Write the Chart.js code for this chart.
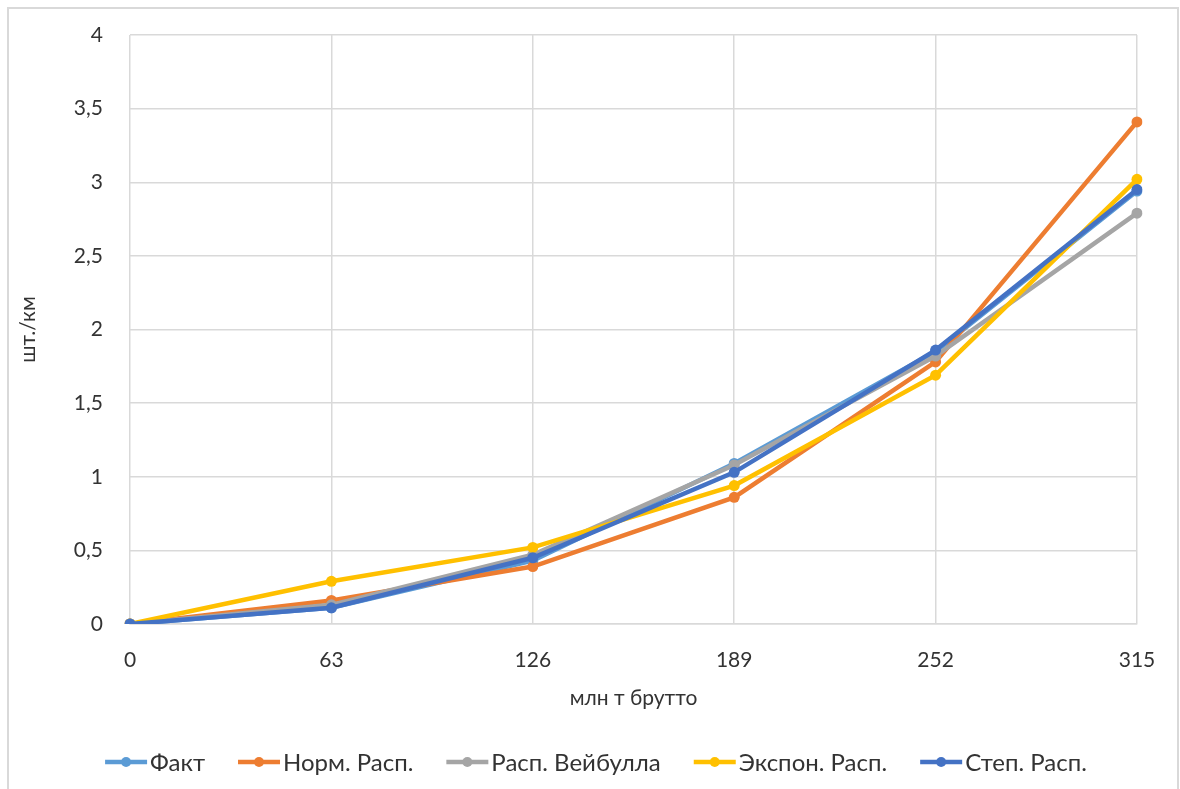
<!DOCTYPE html>
<html>
<head>
<meta charset="utf-8">
<script src="https://cdn.jsdelivr.net/npm/chart.js@4.4.1/dist/chart.umd.min.js"></script>
<style>
  html, body { margin: 0; padding: 0; background: #ffffff; }
  #wrap { width: 1180px; height: 789px; position: relative; }
</style>
</head>
<body>
<div id="wrap"><canvas id="chart" width="1180" height="789"></canvas></div>
<script>
// Наработка, млн т брутто
const categories = ['0', '63', '126', '189', '252', '315'];

// Плотность отказов, шт./км
const fact    = [0, 0.11, 0.43, 1.09, 1.85, 2.94];
const normal  = [0, 0.16, 0.39, 0.86, 1.78, 3.41];
const weibull = [0, 0.13, 0.47, 1.08, 1.82, 2.79];
const expon   = [0, 0.29, 0.52, 0.94, 1.69, 3.02];
const power   = [0, 0.11, 0.45, 1.03, 1.86, 2.95];

const seriesNames = ['Факт', 'Норм. Расп.', 'Расп. Вейбулла', 'Экспон. Расп.', 'Степ. Расп.'];
const seriesColors = ['#5B9BD5', '#ED7D31', '#A5A5A5', '#FFC000', '#4472C4'];
const seriesValues = [fact, normal, weibull, expon, power];

const FONT = 'Lato, "Open Sans", sans-serif';
const TEXT = '#333333';

const datasets = seriesValues.map((vals, i) => ({
  label: seriesNames[i],
  data: vals,
  borderColor: seriesColors[i],
  backgroundColor: seriesColors[i],
  borderWidth: 4.5,
  pointRadius: 5.5,
  pointHoverRadius: 5.5,
  pointBorderWidth: 0,
  tension: 0,
  // later series are painted over earlier ones
  order: seriesValues.length - i
}));

// light frame around the whole chart
const framePlugin = {
  id: 'frame',
  beforeDraw(chart) {
    const ctx = chart.ctx;
    ctx.save();
    ctx.fillStyle = '#ffffff';
    ctx.fillRect(0, 0, chart.width, chart.height);
    ctx.strokeStyle = '#d9d9d9';
    ctx.lineWidth = 2;
    ctx.strokeRect(8, 8, chart.width - 10, chart.height + 20);
    ctx.restore();
  }
};

// legend row: line with a round marker followed by the series name
const lineLegend = {
  id: 'lineLegend',
  afterDraw(chart) {
    const ctx = chart.ctx;
    const lineLen = 42, gapText = 3, gapItem = 33, y = 762;
    ctx.save();
    ctx.font = '24px ' + FONT;
    ctx.textBaseline = 'middle';
    const widths = seriesNames.map(n => ctx.measureText(n).width);
    const total = widths.reduce((a, w) => a + lineLen + gapText + w, 0) + gapItem * (seriesNames.length - 1);
    let x = 596 - total / 2;
    seriesNames.forEach((name, i) => {
      ctx.strokeStyle = seriesColors[i];
      ctx.lineWidth = 4.5;
      ctx.beginPath();
      ctx.moveTo(x, y);
      ctx.lineTo(x + lineLen, y);
      ctx.stroke();
      ctx.fillStyle = seriesColors[i];
      ctx.beginPath();
      ctx.arc(x + lineLen / 2, y, 5, 0, Math.PI * 2);
      ctx.fill();
      ctx.fillStyle = TEXT;
      ctx.textAlign = 'left';
      ctx.fillText(name, x + lineLen + gapText, y + 1);
      x += lineLen + gapText + widths[i] + gapItem;
    });
    ctx.restore();
  }
};

new Chart(document.getElementById('chart'), {
  type: 'line',
  data: { labels: categories, datasets },
  plugins: [framePlugin, lineLegend],
  options: {
    responsive: false,
    animation: false,
    layout: { padding: { left: 0, right: 43, top: 35, bottom: 78 } },
    plugins: {
      legend: { display: false },
      tooltip: { enabled: false }
    },
    scales: {
      x: {
        type: 'category',
        offset: false,
        afterFit(scale) { scale.height = 87; },
        grid: { color: '#d9d9d9', lineWidth: 1.5, drawTicks: false },
        border: { color: '#d9d9d9', width: 1.5 },
        ticks: { color: TEXT, font: { family: FONT, size: 21 }, padding: 24, maxRotation: 0 },
        title: {
          display: true,
          text: 'млн т брутто',
          color: TEXT,
          font: { family: FONT, size: 21 },
          padding: { top: 0, bottom: 0 }
        }
      },
      y: {
        min: 0,
        max: 4,
        afterFit(scale) {
          scale.width = 130;
          scale.paddingTop = 12;
          scale.paddingBottom = 12;
        },
        grid: { color: '#d9d9d9', lineWidth: 1.5, drawTicks: false },
        border: { display: false },
        ticks: {
          stepSize: 0.5,
          color: TEXT,
          font: { family: FONT, size: 21 },
          padding: 27,
          callback: v => String(v).replace('.', ',')
        },
        title: {
          display: true,
          text: 'шт./км',
          color: TEXT,
          font: { family: FONT, size: 21 },
          padding: { top: 16, bottom: 0 }
        }
      }
    }
  }
});
</script>
</body>
</html>
